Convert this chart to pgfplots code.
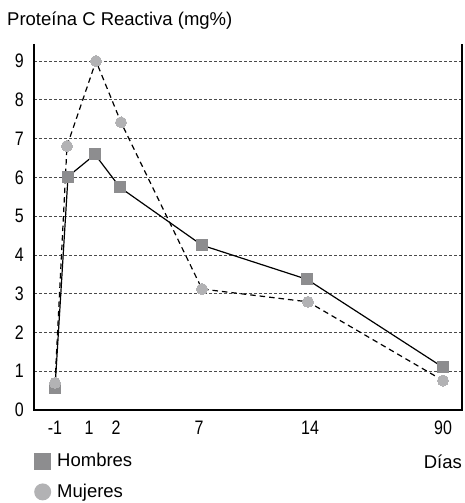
\documentclass[border=0pt]{standalone}
\usepackage{fontspec}
\setmainfont{Liberation Sans}
\newfontfamily\condfont{Liberation Sans}[FakeStretch=0.82]
\usepackage{pgfplots}
\pgfplotsset{compat=1.18}
\definecolor{hsq}{HTML}{8D8D8F}
\definecolor{mci}{HTML}{B2B2B4}
\definecolor{gridc}{HTML}{4A4A4A}
\newcommand{\lbl}{\fontsize{18.5bp}{20bp}\selectfont}
\newcommand{\tlbl}{\condfont\fontsize{19.5bp}{20bp}\selectfont}
\begin{document}
\begin{tikzpicture}
\begin{axis}[
  scale only axis,
  width=428bp, height=366bp,
  xmin=34, xmax=462, ymin=0, ymax=9.44,
  axis line style={draw=none},
  xtick={55,89,116,199,310,443},
  xticklabels={-1,1,2,7,14,90},
  ytick={0,1,2,3,4,5,6,7,8,9},
  major tick length=0pt,
  /pgf/number format/assume math mode=true,
  ticklabel style={font=\tlbl, inner sep=0pt},
  yticklabel style={xshift=-10bp},
  xticklabel style={yshift=-11bp},
  ymajorgrids,
  grid style={gridc, line width=0.8bp, dash pattern=on 3bp off 2bp},
  title={Proteína C Reactiva (mg\%)},
  title style={at={(0,1)}, anchor=base west, xshift=-27bp, yshift=13bp, inner sep=0pt, font=\fontsize{18.5bp}{20bp}\selectfont},
  xlabel={Días},
  xlabel style={at={(1,0)}, anchor=base east, yshift=-58bp, inner sep=0pt, font=\lbl},
  legend style={at={(0,-0.113)}, anchor=north west, draw=none, fill=none, inner sep=0pt, font=\lbl, row sep=12bp,
    nodes={inner sep=2bp}},
  legend cell align=left,
  legend style={/tikz/every even column/.append style={column sep=0bp}},
  clip=false,
  after end axis/.code={
    \draw[line width=2.5bp, black] (rel axis cs:0,1) -- (rel axis cs:0,0) -- (rel axis cs:1,0) -- (rel axis cs:1,1);
    \path ([xshift=-34bp, yshift=44bp]rel axis cs:0,1) -- ([xshift=2bp, yshift=-93bp]rel axis cs:1,0);
  },
]
\addplot[black, line width=1.2bp, mark=square*, mark size=5.5bp,
  mark options={solid, fill=hsq, draw=hsq, line width=0pt},
  legend image code/.code={\path[fill=hsq, draw=none] (0bp,-8.5bp) rectangle (17bp,8.5bp); \path[draw=none] (0bp,0bp) -- (21bp,0bp);}]
  coordinates {(55,0.57) (68,6.02) (95,6.59) (120,5.74) (202,4.25) (307,3.37) (443,1.10)};
\addlegendentry{Hombres}
\addplot[black, line width=1.2bp, dash pattern=on 5.5bp off 4bp, mark=*, mark size=5.5bp,
  mark options={solid, fill=mci, draw=mci, line width=0pt},
  legend image code/.code={\path[fill=mci, draw=none] (8.5bp,0bp) circle (8.5bp); \path[draw=none] (0bp,0bp) -- (21bp,0bp);}]
  coordinates {(55,0.70) (67,6.81) (96,9.00) (121,7.42) (202,3.12) (308,2.79) (443,0.76)};
\addlegendentry{Mujeres}
\end{axis}
\end{tikzpicture}
\end{document}
